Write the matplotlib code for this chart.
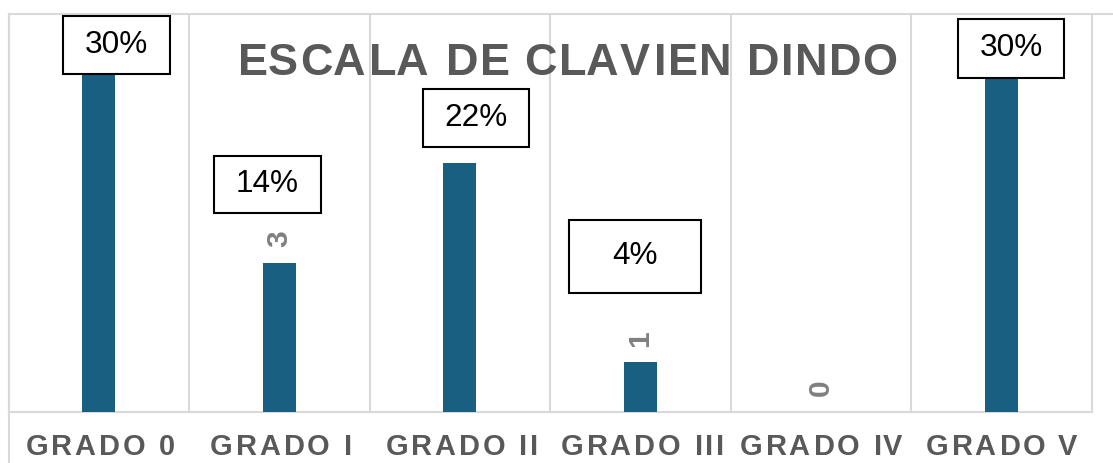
import matplotlib
matplotlib.use('Agg')
import matplotlib.pyplot as plt
from matplotlib.patches import Rectangle
from matplotlib.lines import Line2D
from matplotlib.font_manager import findfont, FontProperties
from matplotlib.ft2font import FT2Font

# ---------------- data ----------------
categories = ['GRADO 0', 'GRADO I', 'GRADO II', 'GRADO III', 'GRADO IV', 'GRADO V']
values = [7, 3, 5, 1, 0, 7]
percent_labels = ['30%', '14%', '22%', '4%', None, '30%']
title = 'ESCALA DE CLAVIEN DINDO'

# ---------------- layout / style ----------------
W, H, DPI = 1113, 463, 100
BAR_COLOR = '#185F81'
GRID = '#d9d9d9'
TEXT_GRAY = '#595959'
LABEL_GRAY = '#808080'
FAMILY = 'Liberation Sans'

# percentage box geometry in image pixels (left, top, right, bottom)
box_px = [(63, 16, 170, 74), (214, 156, 321, 213), (423, 89, 529, 147),
          (569, 220, 701, 293), None, (958, 19, 1064, 78)]

fig = plt.figure(figsize=(W / DPI, H / DPI), dpi=DPI)
AX_L, AX_R, AX_T, AX_B = 8.5, 1092, 14, 412
ax = fig.add_axes([AX_L / W, (H - AX_B) / H, (AX_R - AX_L) / W, (AX_B - AX_T) / H])

xs = list(range(len(categories)))
ax.bar(xs, values, width=0.183, color=BAR_COLOR, zorder=2)
ax.set_xlim(-0.5, len(categories) - 0.5)
ax.set_ylim(0, 8)
ax.set_xticks([])
ax.set_yticks([])
for s in ax.spines.values():
    s.set_visible(False)

for k in range(len(categories) + 1):
    ax.axvline(k - 0.5, color=GRID, lw=1.5, zorder=1, clip_on=False)
ax.axhline(0, color=GRID, lw=1.5, zorder=1, clip_on=False)

# outer frame lines extending to figure edges
fig.add_artist(Line2D([AX_L / W, 1.0], [(H - AX_T) / H] * 2, transform=fig.transFigure,
                      color=GRID, lw=1.5))
fig.add_artist(Line2D([AX_L / W] * 2, [0.0, (H - AX_T) / H], transform=fig.transFigure,
                      color=GRID, lw=1.5))

# value labels (rotated); those hidden under a percentage box in the original are skipped
LBL_PX = 30
LBL_OFF = 24
for i, v in zip(xs, values):
    px, py = ax.transData.transform((i, v))
    py_img = H - (py + LBL_OFF)
    hidden = False
    for b in box_px:
        if b is None:
            continue
        l, t, r, btm = b
        if l <= px <= r and t <= py_img <= btm:
            hidden = True
    if hidden:
        continue
    ax.annotate(str(v), (i, v), xytext=(0, LBL_OFF * 72 / DPI), textcoords='offset points',
                rotation=90, ha='center', va='center', fontsize=LBL_PX * 72 / DPI,
                fontweight='bold', color=LABEL_GRAY, family=FAMILY, zorder=3)

# percentage boxes
pct_size = 31.5 * 72 / DPI
for lab, b in zip(percent_labels, box_px):
    if lab is None:
        continue
    l, t, r, btm = b
    rect = Rectangle((l / W, (H - btm) / H), (r - l) / W, (btm - t) / H,
                     transform=fig.transFigure, facecolor='white', edgecolor='black',
                     lw=1.5, zorder=5)
    fig.add_artist(rect)
    fig.text((l + r) / 2 / W, (H - (t + btm) / 2) / H, lab, ha='center', va='center',
             fontsize=pct_size, color='black', family=FAMILY, zorder=6)


def glyph_metrics(s, size_px, weight):
    prop = FontProperties(family=FAMILY, weight=weight)
    f = FT2Font(findfont(prop))
    f.set_size(size_px, 72)
    out = []
    for ch in s:
        g = f.load_char(ord(ch))
        out.append((g.linearHoriAdvance / 65536, g.horiBearingX / 64, g.width / 64))
    return out


def natural_ink_width(s, size_px, weight):
    m = glyph_metrics(s, size_px, weight)
    return sum(a for a, _, _ in m[:-1]) + m[-1][1] + m[-1][2] - m[0][1]


def spaced_text(s, cx, baseline_y, size_px, spacing, color, weight='bold'):
    m = glyph_metrics(s, size_px, weight)
    ink = sum(a for a, _, _ in m[:-1]) + spacing * (len(s) - 1) + m[-1][1] + m[-1][2] - m[0][1]
    x = cx - ink / 2 - m[0][1]
    for ch, (adv, lsb, w) in zip(s, m):
        if ch != ' ':
            fig.text((x + lsb) / W, (H - baseline_y) / H, ch, ha='left', va='baseline',
                     fontsize=size_px * 72 / DPI, fontweight=weight, color=color,
                     family=FAMILY, zorder=4)
        x += adv + spacing


# title
TITLE_PX = 45
t_sp = (655 - natural_ink_width(title, TITLE_PX, 'bold')) / (len(title) - 1)
spaced_text(title, 565.5, 75, TITLE_PX, t_sp, TEXT_GRAY)

# category labels
CAT_PX = 29
c_sp = (147 - natural_ink_width(categories[0], CAT_PX, 'bold')) / (len(categories[0]) - 1)
for i, c in enumerate(categories):
    cx = ax.transData.transform((i, 0))[0]
    spaced_text(c, cx, 455, CAT_PX, c_sp, TEXT_GRAY)

fig.savefig('out.png', dpi=DPI)
